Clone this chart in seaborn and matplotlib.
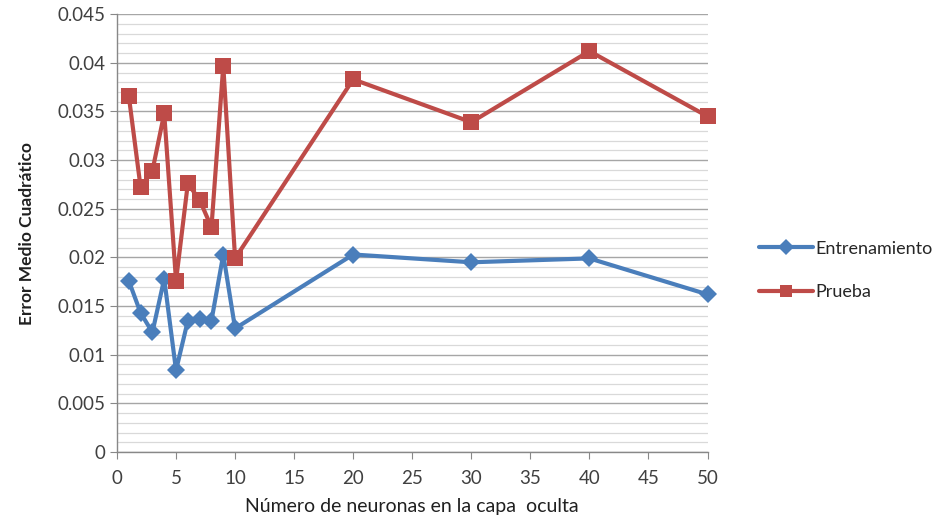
import numpy as np
import pandas as pd
import matplotlib
matplotlib.use("Agg")
import matplotlib.pyplot as plt
from matplotlib.ticker import MultipleLocator
import seaborn as sns

# datos
neuronas = [1, 2, 3, 4, 5, 6, 7, 8, 9, 10, 20, 30, 40, 50]
entrenamiento = [0.0176, 0.0143, 0.0123, 0.0178, 0.0084, 0.0135, 0.0137,
                 0.0135, 0.0203, 0.0127, 0.0203, 0.0195, 0.0199, 0.0162]
prueba = [0.0366, 0.0272, 0.0289, 0.0348, 0.0176, 0.0276, 0.0259,
          0.0231, 0.0397, 0.0199, 0.0383, 0.0339, 0.0412, 0.0345]

df = pd.DataFrame({
    "neuronas": neuronas * 2,
    "error": entrenamiento + prueba,
    "serie": ["Entrenamiento"] * len(neuronas) + ["Prueba"] * len(neuronas),
})

sns.set_style("white")
plt.rcParams['font.family'] = ['Lato', 'DejaVu Sans']

fig = plt.figure(figsize=(9.51, 5.25), dpi=100)
ax = fig.add_axes([0.123, 0.139, 0.621, 0.834])

colores = {"Entrenamiento": "#4A7EBB", "Prueba": "#BE4B48"}
sns.lineplot(data=df, x="neuronas", y="error", hue="serie", style="serie",
             markers={"Entrenamiento": "D", "Prueba": "s"}, dashes=False,
             palette=colores, linewidth=3.0, markersize=11,
             markeredgewidth=0, ax=ax, clip_on=False)

# diamante un poco mas chico que el cuadrado
for ln in ax.lines:
    if ln.get_marker() == "D":
        ln.set_markersize(9.5)

ax.set_xlim(0, 50)
ax.set_ylim(0, 0.045)
ax.xaxis.set_major_locator(MultipleLocator(5))
ax.yaxis.set_major_locator(MultipleLocator(0.005))
ax.yaxis.set_minor_locator(MultipleLocator(0.001))
ax.yaxis.set_major_formatter(plt.FuncFormatter(lambda v, p: f"{v:g}"))

ax.grid(axis="y", which="major", color="#A6A6A6", linewidth=1.0)
ax.grid(axis="y", which="minor", color="#D9D9D9", linewidth=0.9)
ax.grid(axis="x", visible=False)
ax.set_axisbelow(True)

for s in ["top", "right"]:
    ax.spines[s].set_visible(False)
for s in ["left", "bottom"]:
    ax.spines[s].set_color("#888888")
    ax.spines[s].set_linewidth(1.0)

ax.tick_params(axis="both", which="major", length=5, color="#888888",
               labelsize=13.5, labelcolor="#404040", direction="out",
               left=True, bottom=True)
ax.tick_params(axis="y", which="minor", left=False)
ax.tick_params(axis="x", pad=8)

ax.set_xlabel("Número de neuronas en la capa  oculta", fontsize=14,
              color="#202020", labelpad=8)
ax.set_ylabel("Error Medio Cuadrático", fontsize=12.5, fontweight="bold",
              color="#202020", labelpad=16)

leg = ax.legend(loc="center left", bbox_to_anchor=(1.06, 0.415), frameon=False,
                fontsize=13, handlelength=3.0, labelspacing=1.5,
                handletextpad=0.1, title=None)
for h in leg.legend_handles:
    h.set_markersize(8)

fig.savefig("out.png", dpi=100)
